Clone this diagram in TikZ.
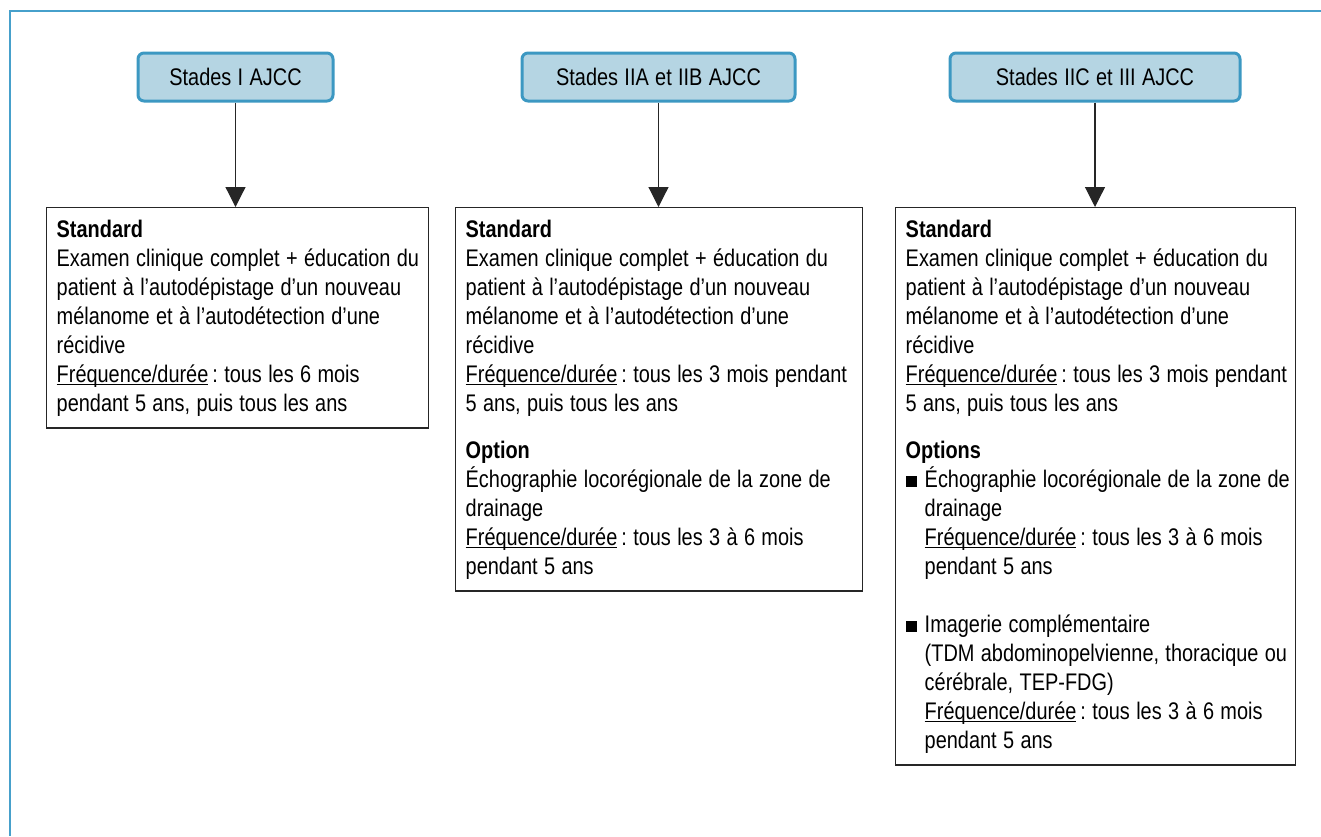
\documentclass[tikz,border=0pt]{standalone}
\usepackage{fontspec}
\setmainfont[FakeStretch=0.83,WordSpace=1.15]{Liberation Sans}
\usetikzlibrary{positioning,arrows.meta}

\definecolor{cadre}{RGB}{70,160,203}
\definecolor{fondstade}{RGB}{181,213,227}
\definecolor{bordstade}{RGB}{60,152,194}
\newcommand{\corps}{\fontsize{12}{14.5}\selectfont\hyphenpenalty=10000\relax}
\newcommand{\souligne}[1]{\leavevmode\setbox0\hbox{#1}\rlap{\rule[-1.6pt]{\wd0}{0.5pt}}\box0}
\newcommand{\freq}{\souligne{Fréquence/durée}\,:}
\newcommand{\puce}{\makebox[9.5pt][l]{\rule[0.2pt]{5.5pt}{5.5pt}}}
\newcommand{\retrait}{\hspace*{9.5pt}}
\frenchspacing

\begin{document}
\begin{tikzpicture}[x=0.5pt,y=-0.5pt,
    stade/.style={draw=bordstade,line width=1.5pt,fill=fondstade,rounded corners=3pt,
        minimum height=24pt,inner sep=0pt,font=\corps},
    bloc/.style={draw=black!85,line width=0.7pt,anchor=north west,align=flush left,
        inner xsep=2pt,inner ysep=6pt,font=\corps,
        execute at begin node={\leftskip=3pt\relax}},
    fleche/.style={-{Triangle[width=10pt,length=10pt]},line width=0.6pt,black!85}]
    \useasboundingbox (0,0) rectangle (1321,836);
    \draw [cadre,line width=0.75pt] (1321,11) -- (10,11) -- (10,836);

    % stades
    \node [stade,minimum width=97.5pt] (st1) at (235.5,77) {Stades I AJCC};
    \node [stade,minimum width=136.5pt] (st2) at (658.5,77) {Stades IIA et IIB AJCC};
    \node [stade,minimum width=145pt] (st3) at (1095,77) {Stades IIC et III AJCC};

    % suivi
    \node [bloc,text width=187pt] (suivi1) at (46,207) {\textbf{Standard}\\
        Examen clinique complet + éducation du\\
        patient à l’autodépistage d’un nouveau\\
        mélanome et à l’autodétection d’une\\
        récidive\\
        \freq{} tous les 6 mois\\
        pendant 5 ans, puis tous les ans};
    \node [bloc,text width=199.5pt] (suivi2) at (455,207) {\textbf{Standard}\\
        Examen clinique complet + éducation du\\
        patient à l’autodépistage d’un nouveau\\
        mélanome et à l’autodétection d’une\\
        récidive\\
        \freq{} tous les 3 mois pendant\\
        5 ans, puis tous les ans\\[9pt]
        \textbf{Option}\\
        Échographie locorégionale de la zone de\\
        drainage\\
        \freq{} tous les 3 à 6 mois\\
        pendant 5 ans};
    \node [bloc,text width=196pt] (suivi3) at (895,207) {\textbf{Standard}\\
        Examen clinique complet + éducation du\\
        patient à l’autodépistage d’un nouveau\\
        mélanome et à l’autodétection d’une\\
        récidive\\
        \freq{} tous les 3 mois pendant\\
        5 ans, puis tous les ans\\[9pt]
        \textbf{Options}\\
        \puce Échographie locorégionale de la zone de\\
        \retrait drainage\\
        \retrait\freq{} tous les 3 à 6 mois\\
        \retrait pendant 5 ans\\[14.5pt]
        \puce Imagerie complémentaire\\
        \retrait(TDM abdominopelvienne, thoracique ou\\
        \retrait cérébrale, TEP-FDG)\\
        \retrait\freq{} tous les 3 à 6 mois\\
        \retrait pendant 5 ans};

    \draw [fleche] (st1.south) -- (st1.south |- suivi1.north);
    \draw [fleche] (st2.south) -- (st2.south |- suivi2.north);
    \draw [fleche] (st3.south) -- (st3.south |- suivi3.north);
\end{tikzpicture}
\end{document}
